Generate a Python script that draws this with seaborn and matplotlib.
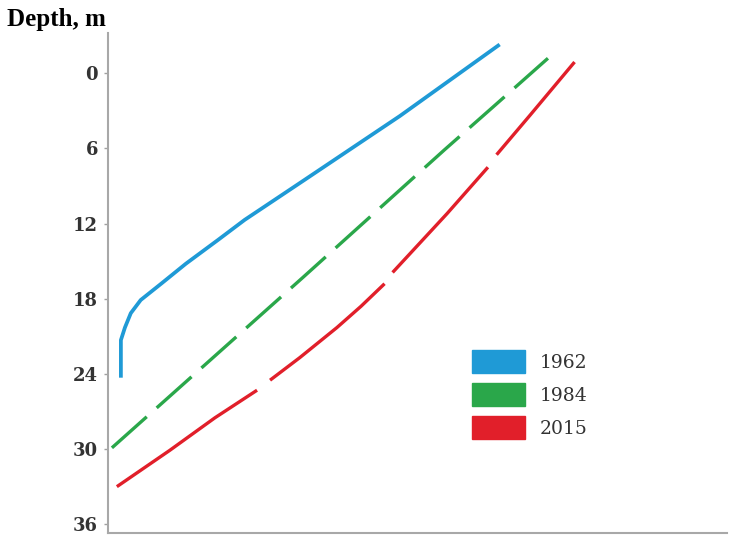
import numpy as np
import pandas as pd
import matplotlib
matplotlib.use("Agg")
import matplotlib.pyplot as plt
from matplotlib.patches import Patch
import seaborn as sns

# ---- data (x in arbitrary horizontal units, depth in m) ----
years = ["1962", "1984", "2015"]
colors = ["#1f9ad6", "#2aa74a", "#e11f2a"]

blue_x = [2.1, 2.1, 2.75, 3.7, 5.3, 8.6, 12.6, 17.8, 22.1, 31.8, 47.2, 63.3]
blue_d = [24.3, 21.3, 20.3, 19.15, 18.1, 16.8, 15.2, 13.3, 11.7, 8.5, 3.4, -2.3]
blue_seg = [0] * len(blue_x)

green_x = [0.65, 31.5, 54.4, 62.2, 71.1]
green_d = [29.9, 16.3, 6.1, 2.7, -1.2]
green_seg = [0] * len(green_x)

red_x = [1.45, 10.0, 17.3, 24.1, 26.2, 31.0, 37.0, 40.9, 44.7, 46.0, 54.8, 61.4, 62.8, 68.2, 75.4]
red_d = [33.0, 30.1, 27.5, 25.3, 24.5, 22.7, 20.3, 18.6, 16.8, 15.9, 11.2, 7.5, 6.5, 3.35, -0.9]
red_seg = [0, 0, 0, 0, 1, 1, 1, 1, 1, 2, 2, 2, 3, 3, 3]

yticks = [0, 6, 12, 18, 24, 30, 36]

sns.set_theme(style="white")

fig = plt.figure(figsize=(7.29, 5.36), dpi=100)
ax = fig.add_axes([0.148, 0.0056, 0.849, 0.9324])

series = [
    (blue_x, blue_d, blue_seg, "", 2.7),
    (green_x, green_d, green_seg, (14, 4), 2.4),
    (red_x, red_d, red_seg, "", 2.4),
]
for (xs, ds, segs, dash, lw), yr, col in zip(series, years, colors):
    df = pd.DataFrame({"x": xs, "depth": ds, "seg": segs})
    sns.lineplot(data=df, x="x", y="depth", units="seg", estimator=None,
                 sort=False, color=col, linewidth=lw, ax=ax, legend=False)
    n = len(set(segs))
    for ln in ax.lines[-n:]:
        ln.set_solid_capstyle("butt")
        ln.set_solid_joinstyle("round")
        if dash:
            ln.set_dashes(dash)
            ln.set_dash_capstyle("butt")

ax.set_xlim(0, 100)
ax.set_ylim(36.7, -3.2)
ax.set_xticks([])
ax.set_yticks(yticks)
ax.set_yticklabels([str(t) for t in yticks], fontfamily="DejaVu Serif",
                   fontweight="bold", fontsize=13, color="#333333")
ax.tick_params(axis="y", length=3, width=1, color="#a0a0a0", pad=4, left=True)
ax.set_xlabel("")
ax.set_ylabel("")
for s in ["top", "right"]:
    ax.spines[s].set_visible(False)
for s in ["left", "bottom"]:
    ax.spines[s].set_color("#a8a8a8")
    ax.spines[s].set_linewidth(1.5)

handles = [Patch(facecolor=c, edgecolor=c) for c in colors]
leg = ax.legend(handles, years, loc="upper left", bbox_to_anchor=(0.588, 0.366),
                frameon=False, borderpad=0, borderaxespad=0,
                handlelength=2.82, handleheight=1.5,
                labelspacing=0.55, handletextpad=0.78,
                prop={"family": "DejaVu Serif", "size": 13.5})
for t in leg.get_texts():
    t.set_color("#333333")

fig.text(0.009, 0.985, "Depth, m", ha="left", va="top",
         fontfamily="Liberation Serif", fontweight="bold", fontsize=18,
         color="black")

fig.savefig("out.png", dpi=100)
